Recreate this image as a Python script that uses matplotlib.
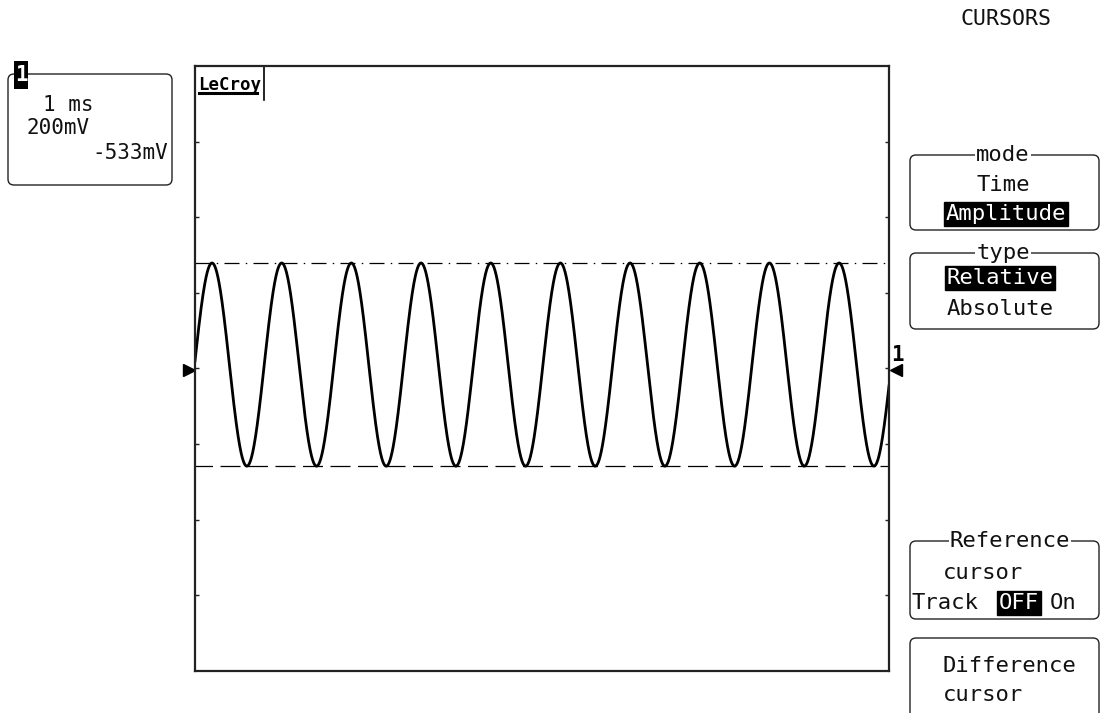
import numpy as np
import matplotlib
matplotlib.use("Agg")
import matplotlib.pyplot as plt
from matplotlib.patches import FancyBboxPatch, Rectangle

time_per_div_ms = [1.0]
n_xdiv = [10]
n_ydiv = [8]
sig_period_div = [1.004]      # period of the sine (divisions)
sig_first_peak_div = [0.245]  # time of first peak (divisions)
sig_amp_div = [1.343]         # amplitude (divisions)
sig_offset_div = [0.052]      # vertical centre (divisions)
ground_level_div = [-0.02]

channel_lines = ["1 ms", "200mV", "-533mV"]
menu_title = "CURSORS"
mode_items = ["Time", "Amplitude"]
type_items = ["Relative", "Absolute"]
ref_items = ["cursor", "Track", "OFF", "On"]
diff_items = ["Difference", "cursor"]

MONO = "DejaVu Sans Mono"
W, H = 1100, 713
fig = plt.figure(figsize=(W / 100, H / 100), dpi=100)
fig.patch.set_facecolor("white")

# ---- main grid axes ----
L, T, R, B = 195, 66, 889, 671
ax = fig.add_axes([L / W, 1 - B / H, (R - L) / W, (B - T) / H])
ax.set_xlim(0, n_xdiv[0])
ax.set_ylim(-n_ydiv[0] / 2, n_ydiv[0] / 2)
for s in ax.spines.values():
    s.set_linewidth(1.6)
    s.set_color("#222222")
ax.set_xticks([])
ax.set_yticks(np.arange(-n_ydiv[0] / 2 + 1, n_ydiv[0] / 2))
ax.tick_params(axis="y", direction="in", length=3, width=1, left=True, right=True,
               labelleft=False, labelright=False, color="#222222")

t = np.linspace(0, n_xdiv[0], 3001)
v = sig_offset_div[0] + sig_amp_div[0] * np.cos(2 * np.pi * (t - sig_first_peak_div[0]) / sig_period_div[0])
ax.plot(t, v, color="black", lw=2.0, solid_joinstyle="miter")

top_c = sig_offset_div[0] + sig_amp_div[0]
bot_c = sig_offset_div[0] - sig_amp_div[0]
ax.axhline(top_c, color="black", lw=0.9, linestyle=(0, (12, 5, 1.2, 5)))
ax.axhline(bot_c, color="black", lw=0.9, linestyle=(2, (16, 6)))

# ground markers
ax.plot([-0.09], [ground_level_div[0]], marker=">", color="black", ms=8, clip_on=False)
ax.plot([n_xdiv[0] + 0.1], [ground_level_div[0]], marker="<", color="black", ms=8, clip_on=False)
ax.text(n_xdiv[0] + 0.12, ground_level_div[0] + 0.2, "1", family=MONO, fontsize=15,
        fontweight="bold", ha="center", va="center", clip_on=False)

# LeCroy logo
ax.text(0.04, 3.87, "LeCroy", family=MONO, fontsize=12.5, fontweight="bold",
        ha="left", va="top", transform=ax.transData)
ax.plot([0.06, 0.9], [3.64, 3.64], color="black", lw=2.2)
ax.plot([0.99, 0.99], [4, 3.55], color="black", lw=1.2)

# ---- overlay in pixel coords ----
ov = fig.add_axes([0, 0, 1, 1], zorder=5)
ov.set_xlim(0, W)
ov.set_ylim(H, 0)
ov.axis("off")
ov.patch.set_alpha(0)

def rbox(x0, y0, x1, y1):
    p = FancyBboxPatch((x0, y0), x1 - x0, y1 - y0, boxstyle="round,pad=0,rounding_size=6",
                       fc="none", ec="#222222", lw=1.0, clip_on=False)
    ov.add_patch(p)

def txt(x, y, s, size=16, ha="center", hl=False, **kw):
    if hl:
        ov.text(x, y, s, family=MONO, fontsize=size, ha=ha, va="center", color="white",
                bbox=dict(boxstyle="square,pad=0.08", fc="black", ec="black"), **kw)
    else:
        ov.text(x, y, s, family=MONO, fontsize=size, ha=ha, va="center", color="#111111", **kw)

def label(x, y, s, size=16):
    ov.text(x, y, s, family=MONO, fontsize=size, ha="center", va="center", color="#111111",
            bbox=dict(boxstyle="square,pad=0.05", fc="white", ec="none"))

# channel box
rbox(8, 74, 172, 185)
ov.add_patch(Rectangle((14, 61), 14, 28, fc="black", ec="none", zorder=6))
ov.text(21, 75, "1", family=MONO, fontsize=15, fontweight="bold", color="white",
        ha="center", va="center", zorder=7)
txt(43, 105, channel_lines[0], size=15, ha="left")
txt(27, 128, channel_lines[1], size=15, ha="left")
txt(168, 153, channel_lines[2], size=15, ha="right")

# menu
txt(1006, 19, menu_title, size=15.5)
rbox(910, 155, 1099, 230)
label(1003, 155, "mode")
txt(1003, 185, mode_items[0])
txt(1006, 214, mode_items[1], hl=True)

rbox(910, 253, 1099, 329)
label(1003, 253, "type")
txt(1000, 278, type_items[0], hl=True)
txt(1000, 309, type_items[1])

rbox(910, 541, 1099, 619)
label(1010, 541, "Reference")
txt(943, 573, ref_items[0], ha="left")
txt(911, 603, ref_items[1], ha="left")
txt(1019, 603, ref_items[2], hl=True)
txt(1050, 603, ref_items[3], ha="left")

rbox(910, 638, 1099, 740)
txt(943, 666, diff_items[0], ha="left")
txt(943, 695, diff_items[1], ha="left")

fig.savefig("out.png", dpi=100, facecolor="white")
